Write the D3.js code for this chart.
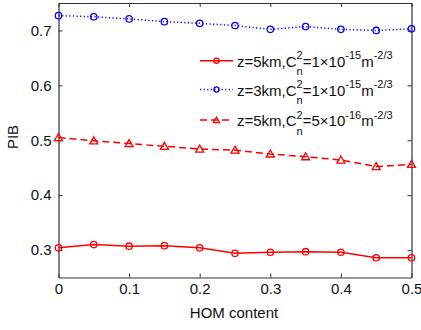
<!DOCTYPE html>
<html>
<head>
<meta charset="utf-8">
<script src="https://cdn.jsdelivr.net/npm/d3@7"></script>
<style>
  html, body { margin: 0; padding: 0; background: #fff; }
  svg { display: block; font-family: "Liberation Sans", Arial, sans-serif; }
</style>
</head>
<body>
<svg id="chart" width="421" height="330"></svg>
<script>
// HOM content values (x axis)
const homContent = [0, 0.05, 0.1, 0.15, 0.2, 0.25, 0.3, 0.35, 0.4, 0.45, 0.5];

// PIB for each turbulence / distance case
const pibZ5Cn1e15 = [0.304, 0.310, 0.307, 0.308, 0.304, 0.294, 0.296, 0.297, 0.296, 0.286, 0.286];
const pibZ3Cn1e15 = [0.727, 0.725, 0.721, 0.716, 0.713, 0.709, 0.702, 0.707, 0.702, 0.700, 0.703];
const pibZ5Cn5e16 = [0.505, 0.499, 0.494, 0.489, 0.484, 0.482, 0.475, 0.470, 0.464, 0.452, 0.456];

const xTicks = [0, 0.1, 0.2, 0.3, 0.4, 0.5];
const yTicks = [0.3, 0.4, 0.5, 0.6, 0.7];
const xTickLabels = ["0", "0.1", "0.2", "0.3", "0.4", "0.5"];
const yTickLabels = ["0.3", "0.4", "0.5", "0.6", "0.7"];

// Legend text pieces: z, C_n^2 mantissa, exponent
const legendZ = ["5km", "3km", "5km"];
const legendMant = ["1", "1", "5"];
const legendExp = ["-15", "-15", "-16"];

const series = [
  { values: pibZ5Cn1e15, color: "#ff0000", dash: null, marker: "circle" },
  { values: pibZ3Cn1e15, color: "#0000ff", dash: "1.2,2.4", marker: "circle" },
  { values: pibZ5Cn5e16, color: "#ff0000", dash: "7,4", marker: "triangle" }
];

const svg = d3.select("#chart");
const margin = { left: 58.5, right: 9.5, top: 3, bottom: 52.5 };
const W = 421, H = 330;

const x = d3.scaleLinear().domain([0, 0.5]).range([margin.left, W - margin.right]);
const y = d3.scaleLinear().domain([0.25, 0.75]).range([H - margin.bottom, margin.top]);

const axisColor = "#333";

// Inward ticks on all four sides (MATLAB-style box)
const g = svg.append("g");
const bottomAxis = d3.axisBottom(x).tickValues(xTicks).tickFormat((d, i) => xTickLabels[i]).tickSizeInner(-4).tickSizeOuter(0).tickPadding(6);
const leftAxis = d3.axisLeft(y).tickValues(yTicks).tickFormat((d, i) => yTickLabels[i]).tickSizeInner(-4).tickSizeOuter(0).tickPadding(7);
const topAxis = d3.axisTop(x).tickValues(xTicks).tickFormat("").tickSizeInner(-4).tickSizeOuter(0);
const rightAxis = d3.axisRight(y).tickValues(yTicks).tickFormat("").tickSizeInner(-4).tickSizeOuter(0);

g.append("g").attr("transform", `translate(0,${H - margin.bottom})`).call(bottomAxis);
g.append("g").attr("transform", `translate(${margin.left},0)`).call(leftAxis);
g.append("g").attr("transform", `translate(0,${margin.top})`).call(topAxis);
g.append("g").attr("transform", `translate(${W - margin.right},0)`).call(rightAxis);

g.selectAll(".domain").attr("stroke", axisColor).attr("stroke-width", 1.2);
g.selectAll(".tick line").attr("stroke", axisColor);
g.selectAll(".tick text").attr("fill", "#111").style("font-size", "15px");

// Series lines and markers
const line = d3.line().x((d, i) => x(homContent[i])).y(d => y(d));

function drawMarker(sel, s, cx, cy, scale) {
  if (s.marker === "circle") {
    sel.append("circle").attr("cx", cx).attr("cy", cy).attr("r", 3.2 * scale)
      .attr("fill", "none").attr("stroke", s.color).attr("stroke-width", 1.3);
  } else {
    const tri = d3.symbol().type(d3.symbolTriangle).size(28 * scale * scale);
    sel.append("path").attr("d", tri()).attr("transform", `translate(${cx},${cy + 0.7})`)
      .attr("fill", "none").attr("stroke", s.color).attr("stroke-width", 1.3);
  }
}

series.forEach(s => {
  const sg = svg.append("g");
  sg.append("path").attr("d", line(s.values)).attr("fill", "none")
    .attr("stroke", s.color).attr("stroke-width", 1.5)
    .attr("stroke-dasharray", s.dash);
  s.values.forEach((v, i) => drawMarker(sg, s, x(homContent[i]), y(v), 1));
});

// Legend
const legX0 = 200, legX1 = 233, legText = 237;
const legY = [60.7, 89.5, 120];
series.forEach((s, i) => {
  const lg = svg.append("g");
  const yy = legY[i];
  lg.append("line").attr("x1", legX0).attr("x2", legX1).attr("y1", yy).attr("y2", yy)
    .attr("stroke", s.color).attr("stroke-width", 1.5).attr("stroke-dasharray", s.dash);
  drawMarker(lg, s, (legX0 + legX1) / 2, yy, 0.8);

  const base = yy + 6;
  let cx = legText;
  const put = (txt, size, dy) => {
    const t = lg.append("text").attr("x", cx).attr("y", base + dy)
      .style("font-size", size + "px").attr("fill", "#111").text(txt);
    return t.node().getComputedTextLength();
  };
  cx += put(`z=${legendZ[i]},C`, 15, 0);
  const w1 = put("2", 11, -7.5);
  const w2 = put("n", 11, 8.5);
  cx += Math.max(w1, w2);
  cx += put(`=${legendMant[i]}\u00d710`, 15, 0);
  cx += put(legendExp[i], 11, -7.5);
  cx += put("m", 15, 0);
  put("-2/3", 11, -7.5);
});

// Axis titles
svg.append("text").attr("x", (margin.left + W - margin.right) / 2 - 1).attr("y", 318)
  .attr("text-anchor", "middle").style("font-size", "15px").attr("fill", "#111").text("HOM content");
svg.append("text").attr("transform", `translate(17.5,137) rotate(-90)`)
  .attr("text-anchor", "middle").style("font-size", "15px").attr("fill", "#111").text("PIB");
</script>
</body>
</html>
